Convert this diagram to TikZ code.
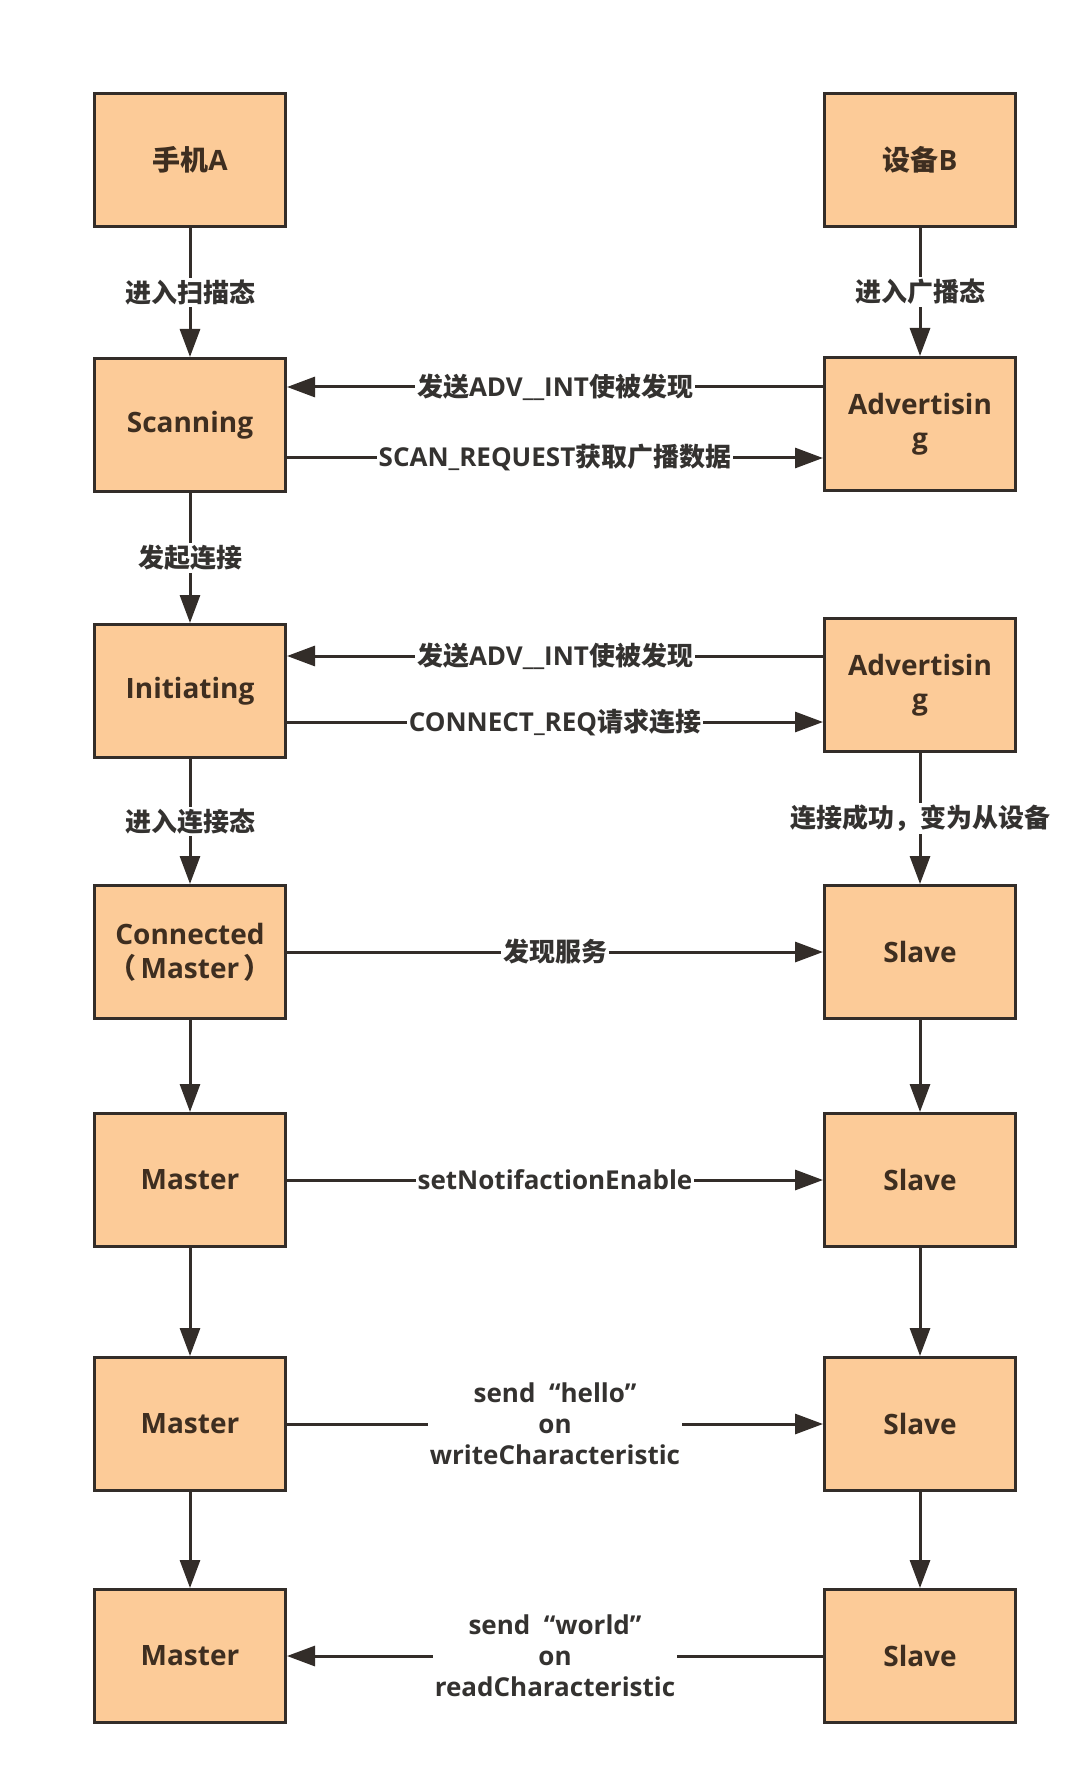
\documentclass[tikz,border=0pt]{standalone}
\usepackage{fontspec}
\setmainfont{Open Sans}
\newfontfamily\cjk{Noto Sans CJK SC}
\usetikzlibrary{arrows.meta}
\definecolor{boxfill}{RGB}{252,203,152}
\definecolor{boxline}{RGB}{51,45,41}
\definecolor{boxtext}{RGB}{62,46,32}
\definecolor{linktext}{RGB}{52,50,48}

\begin{document}
\begin{tikzpicture}[x=0.5pt,y=0.5pt,yscale=-1,xscale=1,
  state/.style={draw=boxline,fill=boxfill,line width=1.5pt,minimum width=95.5pt,minimum height=66.5pt,inner sep=0pt,align=center,text=boxtext,font=\bfseries\fontsize{14}{17}\selectfont},
  link/.style={draw=boxline,line width=1.5pt,-{Triangle[length=14pt,width=10pt]}},
  linklabel/.style={fill=white,inner sep=1pt,align=center,text=linktext,font=\bfseries\fontsize{13}{15.5}\selectfont}]
\useasboundingbox[fill=white] (0,0) rectangle (1080,1786);

%States: phone A (left) and device B (right)
\node[state] (phoneA) at (190,160) {{\cjk 手机}A};
\node[state] (devB) at (920,160) {{\cjk 设备}B};
\node[state] (scan) at (190,425) {Scanning};
\node[state] (adv1) at (920,424) {Advertisin\\g};
\node[state] (init) at (190,691) {Initiating};
\node[state] (adv2) at (920,685) {Advertisin\\g};
\node[state] (conn) at (190,952) {Connected\\{\cjk （}\,Master\,{\cjk ）}};
\node[state] (slave1) at (920,952) {Slave};
\node[state] (master1) at (190,1180) {Master};
\node[state] (slave2) at (920,1180) {Slave};
\node[state] (master2) at (190,1424) {Master};
\node[state] (slave3) at (920,1424) {Slave};
\node[state] (master3) at (190,1656) {Master};
\node[state] (slave4) at (920,1656) {Slave};

%Vertical links
\draw[link] (phoneA) -- (scan) node[midway,linklabel] {{\cjk 进入扫描态}};
\draw[link] (devB) -- (adv1) node[midway,linklabel] {{\cjk 进入广播态}};
\draw[link] (scan) -- (init) node[midway,linklabel] {{\cjk 发起连接}};
\draw[link] (init) -- (conn) node[midway,linklabel] {{\cjk 进入连接态}};
\draw[link] (adv2) -- (slave1) node[midway,linklabel] {{\cjk 连接成功，变为从设备}};
\draw[link] (conn) -- (master1);
\draw[link] (master1) -- (master2);
\draw[link] (master2) -- (master3);
\draw[link] (slave1) -- (slave2);
\draw[link] (slave2) -- (slave3);
\draw[link] (slave3) -- (slave4);

%Horizontal links
\draw[link] (adv1.west |- 0,387) -- (scan.east |- 0,387) node[midway,linklabel] {{\cjk 发送}ADV\_\_INT{\cjk 使被发现}};
\draw[link] (scan.east |- 0,458) -- (adv1.west |- 0,458) node[midway,linklabel] {SCAN\_REQUEST{\cjk 获取广播数据}};
\draw[link] (adv2.west |- 0,656) -- (init.east |- 0,656) node[midway,linklabel] {{\cjk 发送}ADV\_\_INT{\cjk 使被发现}};
\draw[link] (init.east |- 0,722) -- (adv2.west |- 0,722) node[midway,linklabel] {CONNECT\_REQ{\cjk 请求连接}};
\draw[link] (conn) -- (slave1) node[midway,linklabel] {{\cjk 发现服务}};
\draw[link] (master1) -- (slave2) node[midway,linklabel] {setNotifactionEnable};
\draw[link] (master2) -- (slave3) node[midway,linklabel] {send \ “hello”\\on\\writeCharacteristic};
\draw[link] (slave4) -- (master3) node[midway,linklabel] {send \ “world”\\on\\readCharacteristic};

\end{tikzpicture}
\end{document}
